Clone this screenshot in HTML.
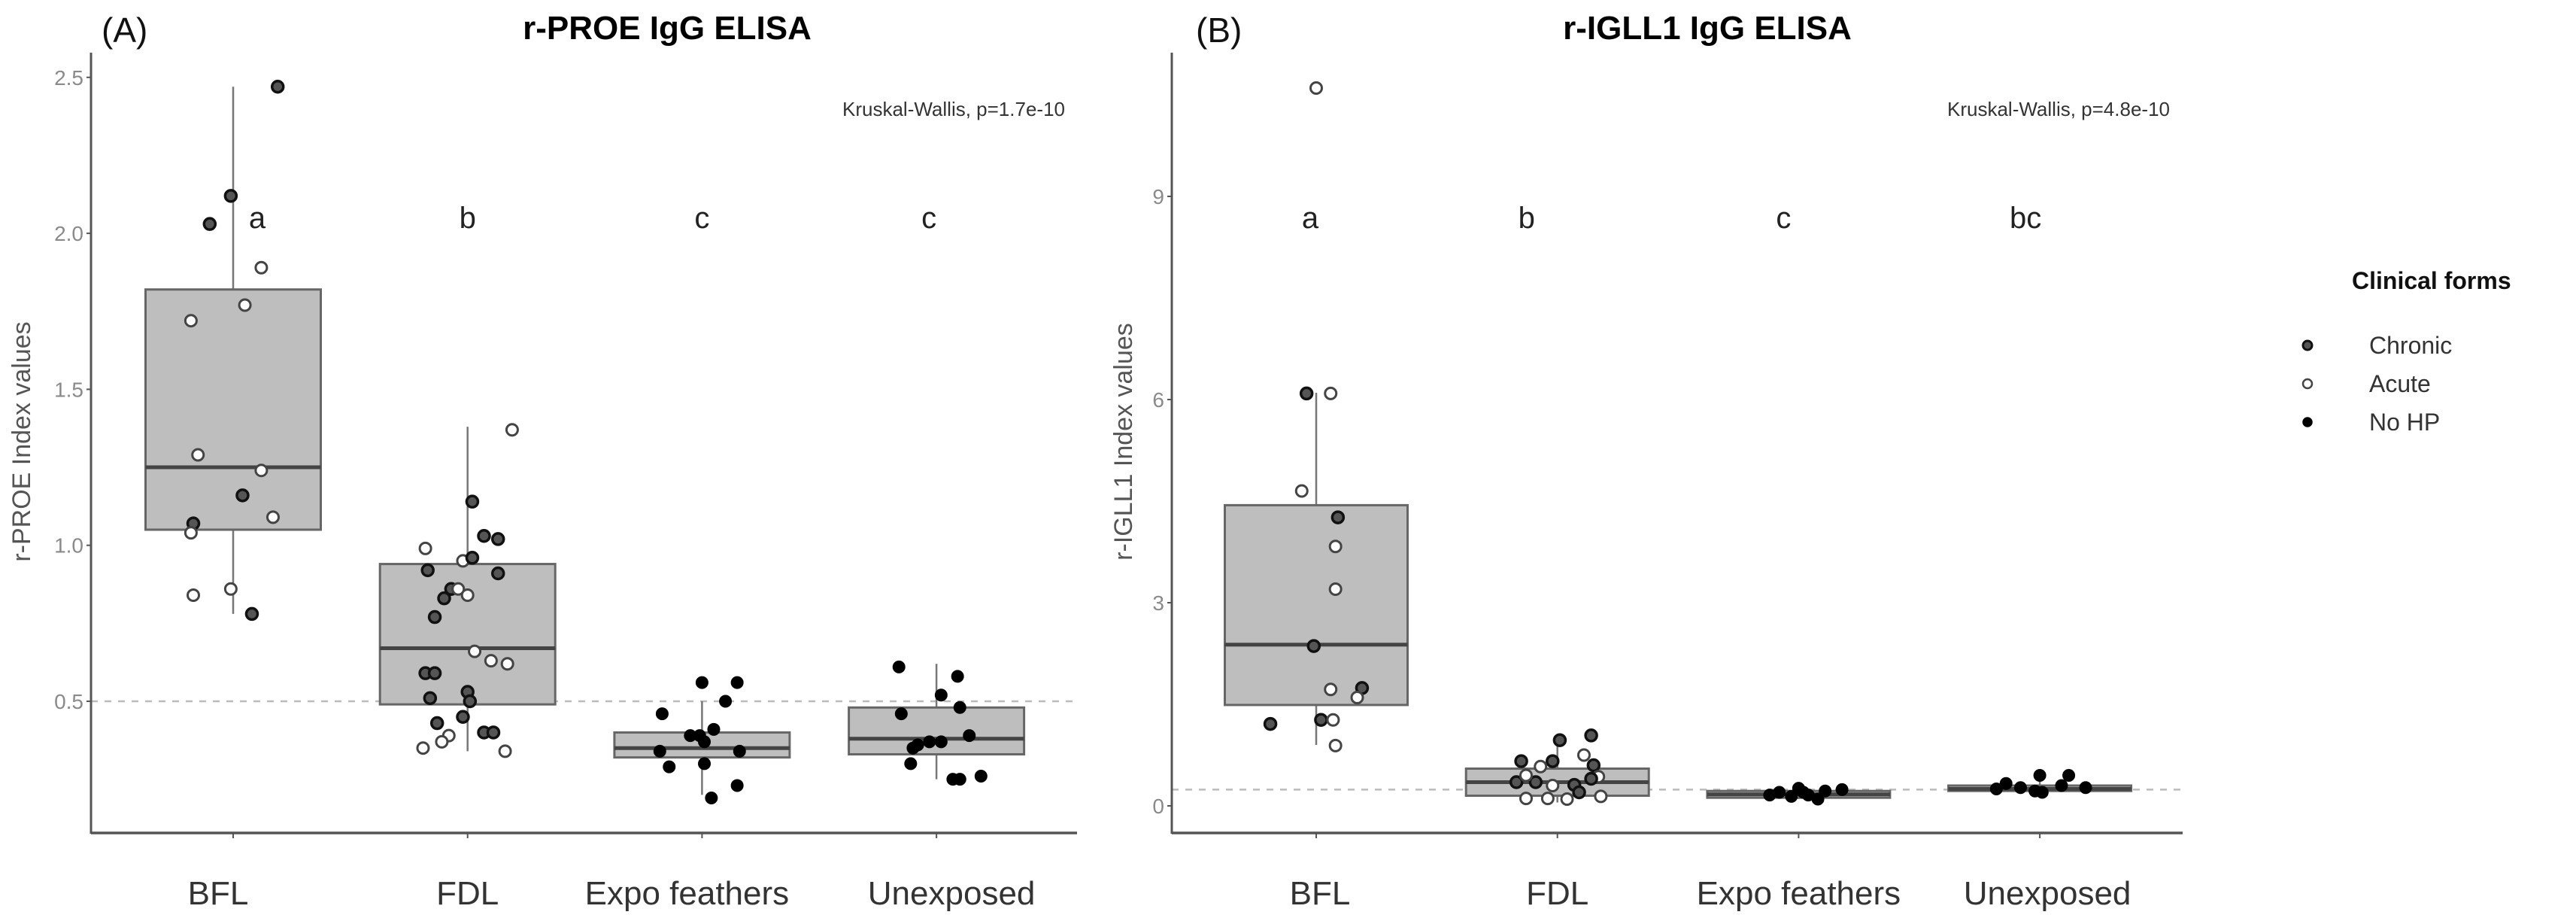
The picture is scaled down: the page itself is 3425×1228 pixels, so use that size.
<!DOCTYPE html>
<html><head><meta charset="utf-8"><style>
html,body{margin:0;padding:0;background:#fff;}
svg{display:block;font-family:"Liberation Sans",sans-serif;}
</style></head><body>
<svg id="fig" width="3425" height="1228" viewBox="0 0 3425 1228"></svg>
<script>
const categories = ["BFL","FDL","Expo feathers","Unexposed"];
// Panel A stats [whiskerLow, Q1, median, Q3, whiskerHigh]
const statsA = [[0.78,1.05,1.25,1.82,2.47],[0.34,0.49,0.67,0.94,1.38],[0.20,0.32,0.35,0.40,0.50],[0.25,0.33,0.38,0.48,0.62]];
const statsB = [[0.9,1.49,2.38,4.44,6.1],[0.05,0.15,0.35,0.55,1.0],[0.10,0.12,0.17,0.22,0.26],[0.20,0.22,0.25,0.30,0.45]];
const lettersA = ["a","b","c","c"];
const lettersB = ["a","b","c","bc"];
const yTicksA = [0.5,1.0,1.5,2.0,2.5];
const yTickLabelsA = ["0.5","1.0","1.5","2.0","2.5"];
const yTicksB = [0,3,6,9];
const yTickLabelsB = ["0","3","6","9"];
// points: [group, value, form(0 chronic,1 acute,2 nohp), jitter in category units]
const pointsA = [
[0,2.47,0,0.19],[0,2.12,0,-0.01],[0,2.03,0,-0.10],[0,1.89,1,0.12],[0,1.77,1,0.05],[0,1.72,1,-0.18],[0,1.29,1,-0.15],[0,1.24,1,0.12],[0,1.16,0,0.04],[0,1.09,1,0.17],[0,1.07,0,-0.17],[0,1.04,1,-0.18],[0,0.84,1,-0.17],[0,0.86,1,-0.01],[0,0.78,0,0.08],
[1,1.37,1,0.19],[1,1.14,0,0.02],[1,1.03,0,0.07],[1,1.02,0,0.13],[1,0.99,1,-0.18],[1,0.95,1,-0.02],[1,0.96,0,0.02],[1,0.92,0,-0.17],[1,0.91,0,0.13],[1,0.86,0,-0.07],[1,0.86,1,-0.04],[1,0.84,1,0],[1,0.83,0,-0.10],[1,0.77,0,-0.14],[1,0.66,1,0.03],[1,0.63,1,0.10],[1,0.62,1,0.17],[1,0.59,0,-0.18],[1,0.59,0,-0.14],[1,0.53,0,0],[1,0.51,0,-0.16],[1,0.50,0,0.01],[1,0.45,0,-0.02],[1,0.43,0,-0.13],[1,0.39,1,-0.08],[1,0.37,1,-0.11],[1,0.40,0,0.07],[1,0.40,0,0.11],[1,0.35,1,-0.19],[1,0.34,1,0.16],
[2,0.56,2,0],[2,0.56,2,0.15],[2,0.50,2,0.10],[2,0.46,2,-0.17],[2,0.41,2,0.05],[2,0.39,2,-0.05],[2,0.39,2,-0.01],[2,0.37,2,0.01],[2,0.34,2,0.16],[2,0.34,2,-0.18],[2,0.30,2,0.01],[2,0.29,2,-0.14],[2,0.23,2,0.15],[2,0.19,2,0.04],
[3,0.61,2,-0.16],[3,0.58,2,0.09],[3,0.52,2,0.02],[3,0.48,2,0.10],[3,0.46,2,-0.15],[3,0.39,2,0.14],[3,0.37,2,-0.03],[3,0.37,2,0.02],[3,0.36,2,-0.08],[3,0.35,2,-0.10],[3,0.30,2,-0.11],[3,0.25,2,0.07],[3,0.25,2,0.10],[3,0.26,2,0.19]];
const pointsB = [
[0,10.6,1,0],[0,6.09,0,-0.04],[0,6.09,1,0.06],[0,4.65,1,-0.06],[0,4.26,0,0.09],[0,3.83,1,0.08],[0,3.2,1,0.08],[0,2.36,0,-0.01],[0,1.72,1,0.06],[0,1.74,0,0.19],[0,1.6,1,0.17],[0,1.21,0,-0.19],[0,1.27,0,0.02],[0,1.27,1,0.07],[0,0.89,1,0.08],
[1,1.04,0,0.14],[1,0.97,0,0.01],[1,0.66,0,-0.15],[1,0.66,0,-0.02],[1,0.75,1,0.11],[1,0.58,1,-0.07],[1,0.6,0,0.15],[1,0.43,1,0.17],[1,0.35,0,-0.17],[1,0.35,0,-0.09],[1,0.30,1,-0.02],[1,0.31,0,0.07],[1,0.11,1,-0.13],[1,0.11,1,-0.04],[1,0.10,1,0.04],[1,0.14,1,0.18],[1,0.40,0,0.14],[1,0.45,1,-0.13],[1,0.2,0,0.09],
[2,0.2,2,-0.08],[2,0.26,2,0],[2,0.16,2,0.04],[2,0.1,2,0.08],[2,0.14,2,-0.03],[2,0.22,2,0.11],[2,0.24,2,0.18],[2,0.16,2,-0.12],[2,0.2,2,0.02],
[3,0.45,2,0],[3,0.45,2,0.12],[3,0.33,2,-0.14],[3,0.25,2,-0.18],[3,0.2,2,0.01],[3,0.3,2,0.09],[3,0.27,2,0.19],[3,0.27,2,-0.08],[3,0.22,2,-0.02]];
const formNames = ["Chronic","Acute","No HP"];

const NS="http://www.w3.org/2000/svg";
const svg=document.getElementById('fig');
function el(tag,attrs,parent,text){const e=document.createElementNS(NS,tag);for(const k in attrs)e.setAttribute(k,attrs[k]);if(text!==undefined)e.textContent=text;(parent||svg).appendChild(e);return e;}
const formStyle=[{fill:"#555",stroke:"#111",sw:3.5},{fill:"#fff",stroke:"#444",sw:3},{fill:"#000",stroke:"#000",sw:2}];

function panel(cfg){
  const g=el('g',{});
  
  
  const xS=i=>cfg.x0+i*cfg.dx;
  const yS=v=>cfg.yRef-(v-cfg.vRef)*cfg.ppu;
  const dl=el('line',{x1:cfg.axX,x2:cfg.axEnd,y1:yS(cfg.refLine),y2:yS(cfg.refLine),stroke:"#bbb","stroke-width":2.5,"stroke-dasharray":"9,9"},g);
  
  
  cfg.stats.forEach((s,i)=>{
    const cx=xS(i), hw=cfg.bw/2;
    const w=el('line',{x1:cx,x2:cx,y1:yS(s[0]),y2:yS(s[4]),stroke:"#777","stroke-width":2.5},g);
    
    
    const r=el('rect',{x:cx-hw,y:yS(s[3]),width:cfg.bw,height:yS(s[1])-yS(s[3]),fill:"#bebebe",stroke:"#666","stroke-width":3},g);
    
    
    const m=el('line',{x1:cx-hw,x2:cx+hw,y1:yS(s[2]),y2:yS(s[2]),stroke:"#444","stroke-width":5},g);
    
    
    const t=el('text',{x:cx+cfg.letterDx[i],y:cfg.letterY,"font-size":40,fill:"#222","text-anchor":"middle"},g,cfg.letters[i]);
    
    
  });
  cfg.points.forEach(p=>{
    const st=formStyle[p[2]];
    const c=el('circle',{cx:xS(p[0]+p[3]),cy:yS(p[1]),r:7.5,fill:st.fill,stroke:st.stroke,"stroke-width":st.sw},g);
    
    
  });
  const ya=el('line',{x1:cfg.axX,x2:cfg.axX,y1:cfg.axTop,y2:1108,stroke:"#555","stroke-width":3},g);
  
  
  const xa=el('line',{x1:cfg.axX,x2:cfg.axEnd,y1:1107,y2:1107,stroke:"#555","stroke-width":3.5},g);
  
  
  cfg.yTicks.forEach((v,i)=>{
    el('line',{x1:cfg.axX-6,x2:cfg.axX,y1:yS(v),y2:yS(v),stroke:"#555","stroke-width":2},g);
    const t=el('text',{x:cfg.axX-10,y:yS(v)+10,"font-size":28,fill:"#8a8a8a","text-anchor":"end"},g,cfg.yLabels[i]);
    
    
  });
  categories.forEach((c,i)=>{
    el('line',{x1:xS(i),x2:xS(i),y1:1107,y2:1114,stroke:"#555","stroke-width":2},g);
    const t=el('text',{x:xS(i)+cfg.labDx[i],y:1202,"font-size":44,fill:"#333","text-anchor":"middle"},g,c);
    
    
  });
  const yt=el('text',{x:0,y:0,"font-size":34,fill:"#555","text-anchor":"middle",transform:`translate(${cfg.ytX},587) rotate(-90)`},g,cfg.yTitle);
  
  
  const ti=el('text',{x:cfg.titleX,y:52,"font-size":44,"font-weight":"bold",fill:"#000","text-anchor":"middle"},g,cfg.title);
  
  
  const pl=el('text',{x:cfg.plX,y:56,"font-size":46,fill:"#111"},g,cfg.panelLabel);
  
  
  const kw=el('text',{x:cfg.kwX,y:154,"font-size":26,fill:"#333","text-anchor":"end"},g,cfg.kw);
  
  
}
panel({name:'panel-a',x0:310,dx:311.7,bw:233,yRef:932,vRef:0.5,ppu:414.6,axX:121,axEnd:1432,axTop:70,refLine:0.5,
  stats:statsA,letters:lettersA,letterDx:[32,0,0,-10],letterY:303,points:pointsA,yTicks:yTicksA,yLabels:yTickLabelsA,
  labDx:[-20,0,-20,20],ytX:40,yTitle:"r-PROE Index values",titleX:887,title:"r-PROE IgG ELISA",plX:135,panelLabel:"(A)",kwX:1416,kw:"Kruskal-Wallis, p=1.7e-10"});
panel({name:'panel-b',x0:1750,dx:320.7,bw:243,yRef:1071,vRef:0,ppu:90,axX:1558,axEnd:2902,axTop:70,refLine:0.24,
  stats:statsB,letters:lettersB,letterDx:[-8,-41,-20,-19],letterY:303,points:pointsB,yTicks:yTicksB,yLabels:yTickLabelsB,
  labDx:[5,0,0,10],ytX:1505,yTitle:"r-IGLL1 Index values",titleX:2270,title:"r-IGLL1 IgG ELISA",plX:1590,panelLabel:"(B)",kwX:2885,kw:"Kruskal-Wallis, p=4.8e-10"});
const lg=el('g',{});


const lt=el('text',{x:3127,y:384,"font-size":32,"font-weight":"bold",fill:"#111"},lg,"Clinical forms");


formNames.forEach((n,i)=>{
  const y=459+i*51, st=formStyle[i];
  const c=el('circle',{cx:3068,cy:y,r:6,fill:st.fill,stroke:st.stroke,"stroke-width":st.sw-0.5},lg);
  
  
  const t=el('text',{x:3150,y:y+11,"font-size":32,fill:"#333"},lg,n);
  
  
});
</script>
</body></html>
